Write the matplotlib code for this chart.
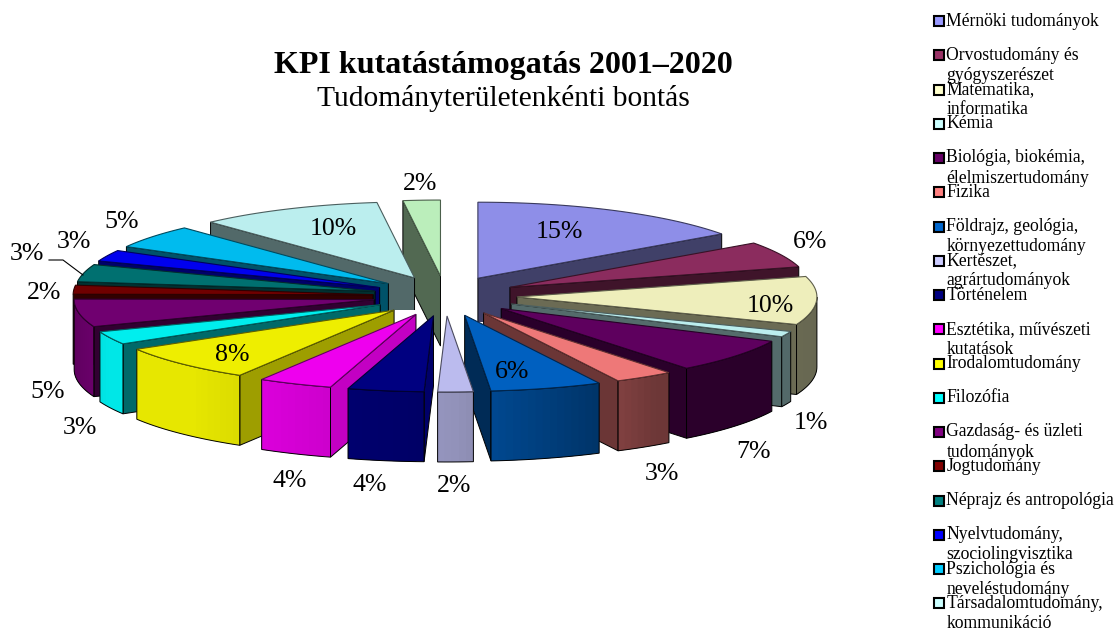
import numpy as np
import matplotlib
matplotlib.use("Agg")
import matplotlib.pyplot as plt
from matplotlib.patches import Polygon, Rectangle
from matplotlib.colors import to_rgb

plt.rcParams['font.family'] = ['Liberation Serif', 'DejaVu Serif']

categories = ["Mérnöki tudományok", "Orvostudomány és\ngyógyszerészet", "Matematika,\ninformatika", "Kémia",
              "Biológia, biokémia,\nélelmiszertudomány", "Fizika", "Földrajz, geológia,\nkörnyezettudomány",
              "Kertészet,\nagrártudományok", "Történelem", "Esztétika, művészeti\nkutatások", "Irodalomtudomány",
              "Filozófia", "Gazdaság- és üzleti\ntudományok", "Jogtudomány", "Néprajz és antropológia",
              "Nyelvtudomány,\nszociolingvisztika", "Pszichológia és\nneveléstudomány",
              "Társadalomtudomány,\nkommunikáció", "Egyéb"]
values = [15.1, 5.55, 10.25, 1.2, 7.3, 3.2, 6.0, 1.9, 4.1, 4.0, 7.8, 2.8, 5.9, 1.9, 3.7, 2.4, 5.0, 9.9, 2.0]
percent_labels = [15, 6, 10, 1, 7, 3, 6, 2, 4, 4, 8, 3, 5, 2, 3, 3, 5, 10, 2]
colors = ["#8e8ee8", "#8b2c5e", "#eeeebb", "#bbeeee", "#5e005e", "#ee7878", "#0060c0", "#bbbbee", "#000080",
          "#ee00ee", "#eeee00", "#00eeee", "#700070", "#700000", "#007070", "#0000ee", "#00bbee", "#bbeeee", "#bbeebb"]
legend_colors = ["#9999ff", "#993366", "#ffffcc", "#ccffff", "#660066", "#ff8080", "#0066cc", "#ccccff", "#000080",
                 "#ff00ff", "#ffff00", "#00ffff", "#800080", "#800000", "#008080", "#0000ff", "#00ccff", "#ccffff"]
label_xy = [(559, 232), (810, 242), (770, 306), (811, 423), (753, 452), (662, 474), (512, 372), (454, 486),
            (370, 485), (290, 481), (232, 355), (80, 428), (48, 392), (44, 293), (27, 254), (74, 242),
            (122, 222), (333, 229), (420, 184)]

CX, CY = 445, 296
EX, EY = 72, 20
RX, RY = 300, 76
DEPTH = 70
wall_floor = {0: 322, 17: 310}

fig = plt.figure(figsize=(11.16, 6.30), dpi=100)
ax = fig.add_axes([0, 0, 1, 1])
ax.set_xlim(0, 1116)
ax.set_ylim(630, 0)
ax.axis("off")

vals = np.array(values)
edges = np.concatenate([[0], np.cumsum(vals)]) / vals.sum() * 360.0


def pt(apex, ang):
    r = np.radians(ang)
    return apex[0] + RX * np.sin(r), apex[1] - RY * np.cos(r)


def shade(c, k):
    return tuple(np.array(to_rgb(c)) * k)


def outer_k(a):
    return np.interp(a, [90, 145, 178, 222, 245, 270], [0.43, 0.46, 0.78, 0.97, 0.97, 0.82])


def start_k(a):
    return np.interp(a, [180, 197, 210, 238], [0.82, 0.82, 0.67, 0.44])


EDGE = dict(edgecolor="#000000", linewidth=0.7)
order = sorted(range(len(vals)), key=lambda i: -np.cos(np.radians((edges[i] + edges[i + 1]) / 2)))
for i in order:
    a, b = edges[i], edges[i + 1]
    mid = np.radians((a + b) / 2)
    apex = (CX + EX * np.sin(mid), CY - EY * np.cos(mid))
    c = colors[i]
    # radial walls
    for ang, visible, k in ((a, np.sin(np.radians(a)) < 0, start_k(a)), (b, np.sin(np.radians(b)) > 0, 0.45)):
        if visible and abs(np.sin(np.radians(ang))) > 1e-6:
            p = pt(apex, ang)
            poly = Polygon([apex, p, (p[0], p[1] + DEPTH), (apex[0], apex[1] + DEPTH)],
                           facecolor=shade(c, k), **EDGE)
            ax.add_patch(poly)
            if i in wall_floor:
                poly.set_clip_path(Rectangle((0, 0), 1116, wall_floor[i], transform=ax.transData))
    # outer rim: overlapping bands so that no seams show, then one outline
    lo, hi = max(a, 90), min(b, 270)
    if hi > lo:
        th = np.linspace(lo, hi, max(2, int((hi - lo) / 1.5) + 2))
        for j in range(len(th) - 1):
            t0, t1 = th[j], th[min(j + 2, len(th) - 1)]
            p0, pm, p1 = pt(apex, t0), pt(apex, th[j + 1]), pt(apex, t1)
            col = shade(c, outer_k((th[j] + th[j + 1]) / 2))
            ax.add_patch(Polygon([p0, pm, p1, (p1[0], p1[1] + DEPTH), (pm[0], pm[1] + DEPTH), (p0[0], p0[1] + DEPTH)],
                                 facecolor=col, edgecolor="none", linewidth=0))
        top = np.array([pt(apex, t) for t in th])
        ax.add_patch(Polygon(np.vstack([top, (top + [0, DEPTH])[::-1]]), fill=False, **EDGE))
    # top face
    th = np.linspace(a, b, max(3, int(b - a) + 3))
    ax.add_patch(Polygon([apex] + [pt(apex, t) for t in th], facecolor=c,
                         edgecolor=shade(c, 0.4), linewidth=0.8))

for xy, v in zip(label_xy, percent_labels):
    ax.text(xy[0], xy[1], f"{v}%", fontsize=18.6, ha="center", va="center", color="black", zorder=10)

ax.plot([49, 63, 83], [260, 260, 275], color="black", lw=0.8, zorder=9)

ax.text(503, 65, "KPI kutatástámogatás 2001–2020", fontsize=23, fontweight="bold", ha="center", va="center")
ax.text(503, 99, "Tudományterületenkénti bontás", fontsize=21.25, ha="center", va="center")

for i, (name, col) in enumerate(zip(categories[:18], legend_colors)):
    y = 21 + 34.25 * i
    ax.add_patch(Rectangle((934, y - 5), 10, 10, facecolor=col, edgecolor="black", linewidth=1.5))
    ax.text(946.5, y - 8.5, name, fontsize=12.7, ha="left", va="top", linespacing=1.24, color="black")

fig.savefig("out.png", dpi=100)
